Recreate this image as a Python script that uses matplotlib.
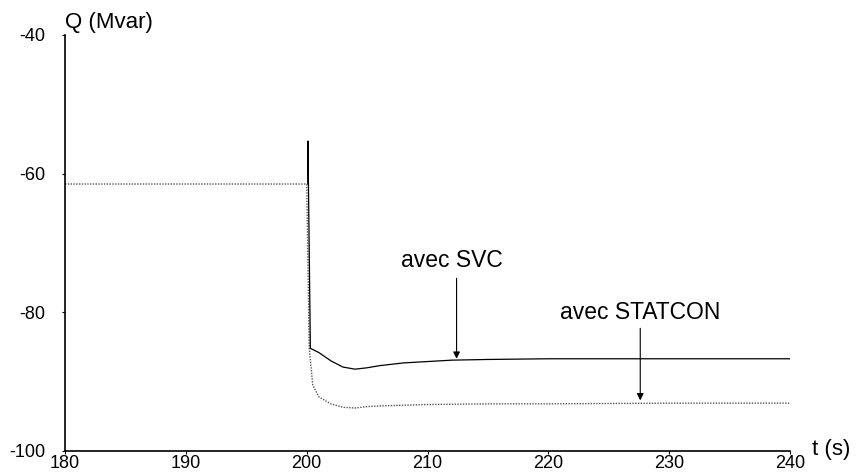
import matplotlib.pyplot as plt

plt.rcParams['font.family'] = ['Liberation Sans', 'DejaVu Sans']
plt.rcParams['axes.unicode_minus'] = False

# avec SVC (trait plein)
t_svc = [200.1, 200.1, 200.3, 201, 202, 203, 204, 205, 206, 208, 210, 212, 215, 220, 230, 240]
q_svc = [-61.5, -55.3, -85.2, -85.8, -87.0, -87.9, -88.2, -88.0, -87.7, -87.3, -87.1, -86.9, -86.8, -86.7, -86.7, -86.7]

# avec STATCON (pointillé)
t_stat = [180, 200, 200.2, 200.5, 201, 202, 203, 204, 205, 206, 208, 210, 215, 220, 230, 240]
q_stat = [-61.5, -61.5, -85.0, -90.5, -92.2, -93.2, -93.7, -93.8, -93.6, -93.5, -93.4, -93.3, -93.2, -93.2, -93.1, -93.1]

xticks = [180, 190, 200, 210, 220, 230, 240]
yticks = [-100, -80, -60, -40]

fig = plt.figure(figsize=(8.56, 4.72), dpi=100)
ax = fig.add_axes([0.076, 0.0445, 0.847, 0.8815])

ax.plot(t_stat, q_stat, color='#555555', lw=1.0, ls=(0, (1, 1)))
ax.plot(t_svc, q_svc, color='black', lw=0.9)

ax.set_xlim(180, 240)
ax.set_ylim(-100, -40)
ax.set_xticks(xticks)
ax.set_yticks(yticks)
ax.tick_params(labelsize=13, length=2, width=0.8)
ax.tick_params(axis='x', pad=1)
ax.tick_params(axis='y', pad=12)
for lab in ax.get_yticklabels():
    lab.set_va('center_baseline')
for s in ['top', 'right']:
    ax.spines[s].set_visible(False)
ax.spines['left'].set_linewidth(1.2)
ax.spines['bottom'].set_linewidth(1.2)

ax.text(0.0, 1.017, 'Q (Mvar)', transform=ax.transAxes, fontsize=16, ha='left', va='baseline')
ax.text(1.03, -0.01, 't (s)', transform=ax.transAxes, fontsize=16, ha='left', va='baseline')

arrow = dict(arrowstyle='-|>', color='black', lw=0.8, mutation_scale=10, shrinkA=0, shrinkB=0)
ax.annotate('', xy=(212.4, -86.7), xytext=(212.4, -75.1), arrowprops=arrow)
ax.text(212.0, -72.5, 'avec SVC', fontsize=16.5, ha='center', va='center')
ax.annotate('', xy=(227.6, -92.7), xytext=(227.6, -82.3), arrowprops=arrow)
ax.text(227.6, -80.0, 'avec STATCON', fontsize=16.5, ha='center', va='center')

fig.savefig('out.png', dpi=100)
